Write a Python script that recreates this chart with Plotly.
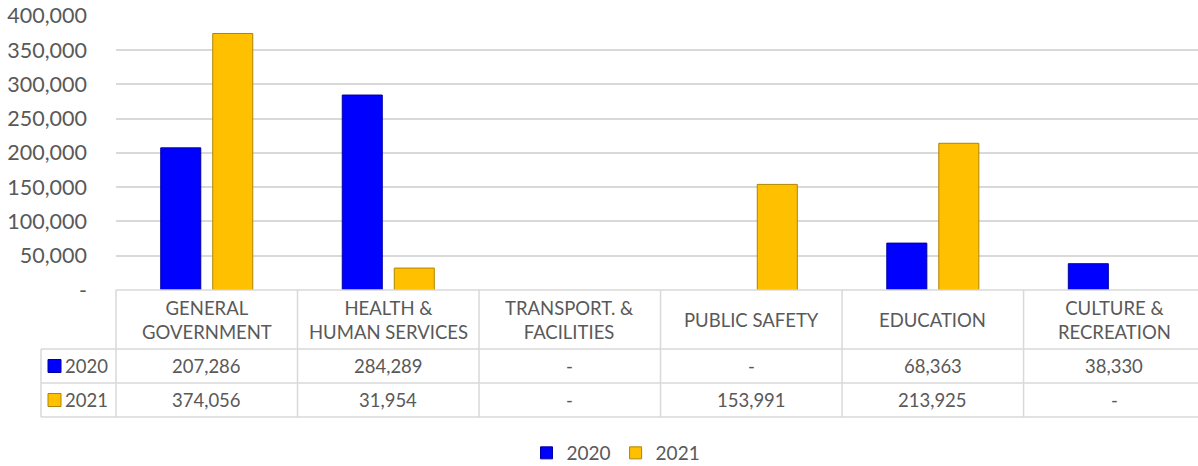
import plotly.graph_objects as go

categories = ["GENERAL<br>GOVERNMENT", "HEALTH &<br>HUMAN SERVICES", "TRANSPORT. &<br>FACILITIES",
              "PUBLIC SAFETY", "EDUCATION", "CULTURE &<br>RECREATION"]
series_names = ["2020", "2021"]
values_2020 = [207286, 284289, 0, 0, 68363, 38330]
values_2021 = [374056, 31954, 0, 153991, 213925, 0]
tick_vals = [0, 50000, 100000, 150000, 200000, 250000, 300000, 350000, 400000]
tick_text = ["-", "50,000", "100,000", "150,000", "200,000", "250,000", "300,000", "350,000", "400,000"]

colors = ["#0000FF", "#FFC000"]
edge_colors = ["#0000A0", "#B08400"]
text_color = "#595959"
grid_color = "#D9D9D9"
FONT = "Lato, 'Open Sans', sans-serif"

W, H = 1198, 466
ML, MR = 116, 0
MT = 15
PLOT_BOTTOM = 290
MB = H - PLOT_BOTTOM
plot_w = W - ML - MR
plot_h = H - MT - MB
x_range = [-0.5, 5.461]
y_range = [0, 401000]


def py(pix):
    # window pixel row -> paper y
    return (PLOT_BOTTOM - pix) / plot_h


def px(pix):
    return (pix - ML) / plot_w


def fmt(v):
    return "-" if v == 0 else f"{v:,}"


fig = go.Figure()
for name, vals, c, ec in zip(series_names, [values_2020, values_2021], colors, edge_colors):
    fig.add_trace(go.Bar(
        x=list(range(len(categories))), y=[v if v else None for v in vals], name=name,
        marker=dict(color=c, line=dict(color=ec, width=1)),
        hoverinfo="skip",
    ))

shapes = []
annotations = []
line = dict(color=grid_color, width=1.5)

top, hdr_bot, row1_bot, row2_bot = 290, 349, 383, 417
left_px = 41

shapes.append(dict(type="line", xref="paper", yref="paper", x0=0, x1=1, y0=py(top), y1=py(top), line=line))
for yy in [hdr_bot, row1_bot, row2_bot]:
    shapes.append(dict(type="line", xref="paper", yref="paper", x0=px(left_px), x1=1, y0=py(yy), y1=py(yy), line=line))
shapes.append(dict(type="line", xref="paper", yref="paper", x0=px(left_px), x1=px(left_px),
                   y0=py(hdr_bot), y1=py(row2_bot), line=line))
shapes.append(dict(type="line", xref="paper", yref="paper", x0=0, x1=0,
                   y0=py(top), y1=py(row2_bot), line=line))
for i in range(1, len(categories)):
    shapes.append(dict(type="line", xref="x", yref="paper", x0=i - 0.5, x1=i - 0.5,
                       y0=py(top), y1=py(row2_bot), line=line))

tfont = dict(family=FONT, size=18.5, color=text_color)
for i, cat in enumerate(categories):
    annotations.append(dict(x=i, y=py((top + hdr_bot) / 2), xref="x", yref="paper", text=cat,
                            showarrow=False, font=tfont, xanchor="center", yanchor="middle"))
rows = [(values_2020, (hdr_bot + row1_bot) / 2), (values_2021, (row1_bot + row2_bot) / 2)]
for (vals, ymid), name, c, ec in zip(rows, series_names, colors, edge_colors):
    for i, v in enumerate(vals):
        annotations.append(dict(x=i, y=py(ymid), xref="x", yref="paper", text=fmt(v),
                                showarrow=False, font=tfont, xanchor="center", yanchor="middle"))
    shapes.append(dict(type="rect", xref="paper", yref="paper",
                       x0=px(48), x1=px(61), y0=py(ymid - 6.5), y1=py(ymid + 6.5),
                       fillcolor=c, line=dict(color=ec, width=1)))
    annotations.append(dict(x=px(63), y=py(ymid), xref="paper", yref="paper", text=name,
                            showarrow=False, font=tfont, xanchor="left", yanchor="middle"))

legend_cx, legend_cy = 616, 453
fig.update_layout(
    width=W, height=H,
    margin=dict(l=ML, r=MR, t=MT, b=MB, pad=0),
    paper_bgcolor="white", plot_bgcolor="white",
    barmode="group", bargap=0.427, bargroupgap=0.23,
    font=dict(family=FONT, color=text_color),
    xaxis=dict(range=x_range, showticklabels=False, showgrid=False, zeroline=False,
               showline=False, ticks=""),
    yaxis=dict(range=y_range, tickvals=tick_vals, ticktext=tick_text,
               showgrid=True, gridcolor=grid_color, gridwidth=1.5, zeroline=False,
               showline=False, ticks="", ticklabelstandoff=28,
               tickfont=dict(family=FONT, size=21.5, color=text_color)),
    legend=dict(orientation="h", xref="container", yref="container",
                x=legend_cx / W, y=(H - legend_cy) / H,
                xanchor="center", yanchor="middle", font=dict(family=FONT, size=19, color=text_color),
                itemwidth=30, traceorder="normal"),
    shapes=shapes, annotations=annotations,
    showlegend=True,
)

fig.write_html("out.html", config={"displayModeBar": False},
               post_script="document.body.style.margin='0';document.body.style.overflow='hidden';")
